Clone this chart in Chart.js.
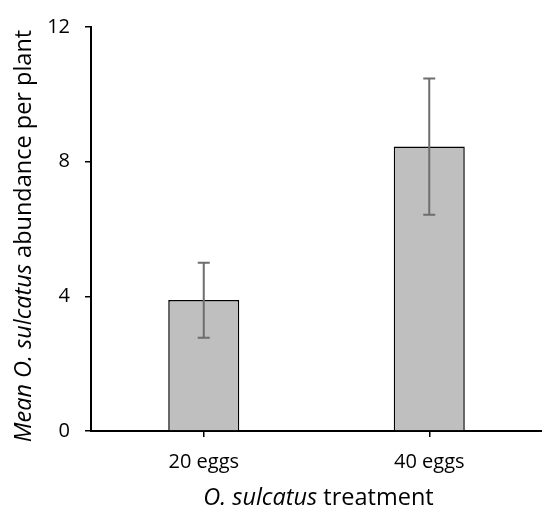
<!DOCTYPE html>
<html>
<head>
<meta charset="utf-8">
<script src="https://cdn.jsdelivr.net/npm/chart.js@4"></script>
<style>
html,body{margin:0;padding:0;background:#fff;}
#wrap{width:542px;height:511px;position:relative;}
</style>
</head>
<body>
<div id="wrap"><canvas id="c" width="542" height="511"></canvas></div>
<script>
const categories = ["20 eggs", "40 eggs"];
const meanValues = [3.89, 8.45];
const errLow = [2.77, 6.42];
const errHigh = [5.00, 10.47];
const yTicks = [0, 4, 8, 12];

const FONT = "'Open Sans', sans-serif";
const TITLE_SIZE = 23.5;

const errorBars = {
  id: 'errorBars',
  afterDatasetsDraw(chart) {
    const ctx = chart.ctx;
    const meta = chart.getDatasetMeta(0);
    const y = chart.scales.y;
    ctx.save();
    ctx.strokeStyle = '#6e6e6e';
    ctx.lineWidth = 2;
    meta.data.forEach((bar, i) => {
      const x = bar.x;
      const yl = y.getPixelForValue(errLow[i]);
      const yh = y.getPixelForValue(errHigh[i]);
      ctx.beginPath();
      ctx.moveTo(x, yl); ctx.lineTo(x, yh);
      ctx.moveTo(x - 6, yl); ctx.lineTo(x + 6, yl);
      ctx.moveTo(x - 6, yh); ctx.lineTo(x + 6, yh);
      ctx.stroke();
    });
    ctx.restore();
  }
};

const titles = {
  id: 'titles',
  afterDraw(chart) {
    const ctx = chart.ctx;
    const a = chart.chartArea;
    ctx.save();
    ctx.fillStyle = '#000';
    ctx.textBaseline = 'alphabetic';
    const f = (style) => style + " " + TITLE_SIZE + "px " + FONT;
    // x title
    const xParts = [["O. sulcatus", "italic"], [" treatment", "normal"]];
    let w = 0;
    xParts.forEach(p => { ctx.font = f(p[1]); w += ctx.measureText(p[0]).width; });
    let x0 = (a.left + a.right) / 2 + 2 - w / 2;
    xParts.forEach(p => { ctx.font = f(p[1]); ctx.fillText(p[0], x0, 505); x0 += ctx.measureText(p[0]).width; });
    // y title
    const yParts = [["Mean O. sulcatus", "italic"], [" abundance per plant", "normal"]];
    w = 0;
    yParts.forEach(p => { ctx.font = f(p[1]); w += ctx.measureText(p[0]).width; });
    ctx.translate(31, (a.top + a.bottom) / 2 + 7);
    ctx.rotate(-Math.PI / 2);
    let s = -w / 2;
    yParts.forEach(p => { ctx.font = f(p[1]); ctx.fillText(p[0], s, 0); s += ctx.measureText(p[0]).width; });
    ctx.restore();
  }
};

new Chart(document.getElementById('c'), {
  type: 'bar',
  data: {
    labels: categories,
    datasets: [{
      data: meanValues,
      backgroundColor: '#bfbfbf',
      borderColor: '#000',
      borderWidth: 1.5,
      categoryPercentage: 1,
      barPercentage: 0.315
    }]
  },
  options: {
    responsive: false,
    animation: false,
    devicePixelRatio: 1,
    layout: { padding: { top: 23, right: 0, left: 0, bottom: 0 } },
    plugins: { legend: { display: false }, tooltip: { enabled: false } },
    scales: {
      x: {
        afterFit(s) { s.height = 80; },
        grid: { display: true, drawOnChartArea: false, drawTicks: true, tickLength: 6, offset: false, color: '#000', lineWidth: 1.5 },
        border: { display: true, color: '#000', width: 2 },
        ticks: { color: '#000', font: { family: FONT, size: 20 }, padding: 13 }
      },
      y: {
        min: 0, max: 12,
        afterFit(s) { s.width = 91; },
        afterBuildTicks(s) { s.ticks = yTicks.map(v => ({ value: v })); },
        grid: { display: true, drawOnChartArea: false, drawTicks: true, tickLength: 6, color: '#000', lineWidth: 1.5 },
        border: { display: true, color: '#000', width: 2 },
        ticks: { color: '#000', font: { family: FONT, size: 20 }, padding: 15 }
      }
    }
  },
  plugins: [errorBars, titles]
});
</script>
</body>
</html>
